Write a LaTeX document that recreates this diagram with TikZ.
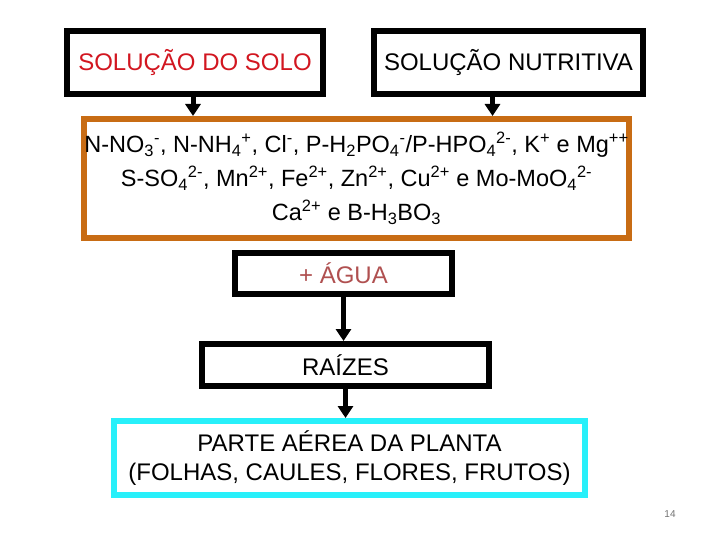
\documentclass[tikz,border=0pt]{standalone}
\usepackage{fontspec}
\setmainfont{Liberation Sans}
\usetikzlibrary{arrows.meta}
\definecolor{ColRed}{RGB}{210,22,32}
\definecolor{ColOrange}{RGB}{200,108,20}
\definecolor{ColCyan}{RGB}{40,240,250}
\definecolor{ColWater}{RGB}{176,80,80}
\tikzstyle{BoxGraph}=[draw=black,line width=6pt,inner sep=0pt,align=center,
font=\fontsize{24}{28}\selectfont]
\tikzstyle{ArrowGraph}=[line width=5pt,-{Triangle[width=15pt,length=12pt]}]
\newcommand{\lo}[1]{\textsubscript{#1}}
\newcommand{\hi}[1]{\textsuperscript{#1}}

\begin{document}
\begin{tikzpicture}[x=1pt,y=-1pt]
        \useasboundingbox(0,0)rectangle(720,540);
        \fill[white](0,0)rectangle(720,540);
        \node[BoxGraph,minimum width=256pt,minimum height=63pt,text=ColRed](solo)at(195,62.5){SOLUÇÃO DO SOLO};
        \node[BoxGraph,minimum width=269pt,minimum height=63pt](nutri)at(508.5,62.5){SOLUÇÃO NUTRITIVA};
        \node[BoxGraph,draw=ColOrange,minimum width=537pt,minimum height=119pt,
            font=\fontsize{23.5}{34}\selectfont](ions)at(356.5,178.5){%
            N-NO\lo{3}\hi{-}, N-NH\lo{4}\hi{+}, Cl\hi{-}, P-H\lo{2}PO\lo{4}\hi{-}/P-HPO\lo{4}\hi{2-}, K\hi{+} e Mg\hi{++}\\
            S-SO\lo{4}\hi{2-}, Mn\hi{2+}, Fe\hi{2+}, Zn\hi{2+}, Cu\hi{2+} e Mo-MoO\lo{4}\hi{2-}\\
            Ca\hi{2+} e B-H\lo{3}BO\lo{3}};
        \node[BoxGraph,minimum width=217pt,minimum height=41pt,text=ColWater](agua)at(343.5,273.5){+ ÁGUA};
        \node[BoxGraph,minimum width=287pt,minimum height=42pt](raizes)at(345.5,365){RAÍZES};
        \node[BoxGraph,draw=ColCyan,minimum width=471pt,minimum height=74pt,
            font=\fontsize{24}{29}\selectfont](planta)at(349.5,458){PARTE AÉREA DA PLANTA\\(FOLHAS, CAULES, FLORES, FRUTOS)};
        \node[text=black!55,font=\fontsize{10}{12}\selectfont](pag)at(670,514){14};
        \draw[ArrowGraph]([xshift=-2pt]solo.south)--([xshift=-2pt]solo.south|-ions.north);
        \draw[ArrowGraph]([xshift=-16pt]nutri.south)--([xshift=-16pt]nutri.south|-ions.north);
        \draw[ArrowGraph](agua.south)--(agua.south|-raizes.north);
        \draw[ArrowGraph](raizes.south)--(raizes.south|-planta.north);
    \end{tikzpicture}
\end{document}
